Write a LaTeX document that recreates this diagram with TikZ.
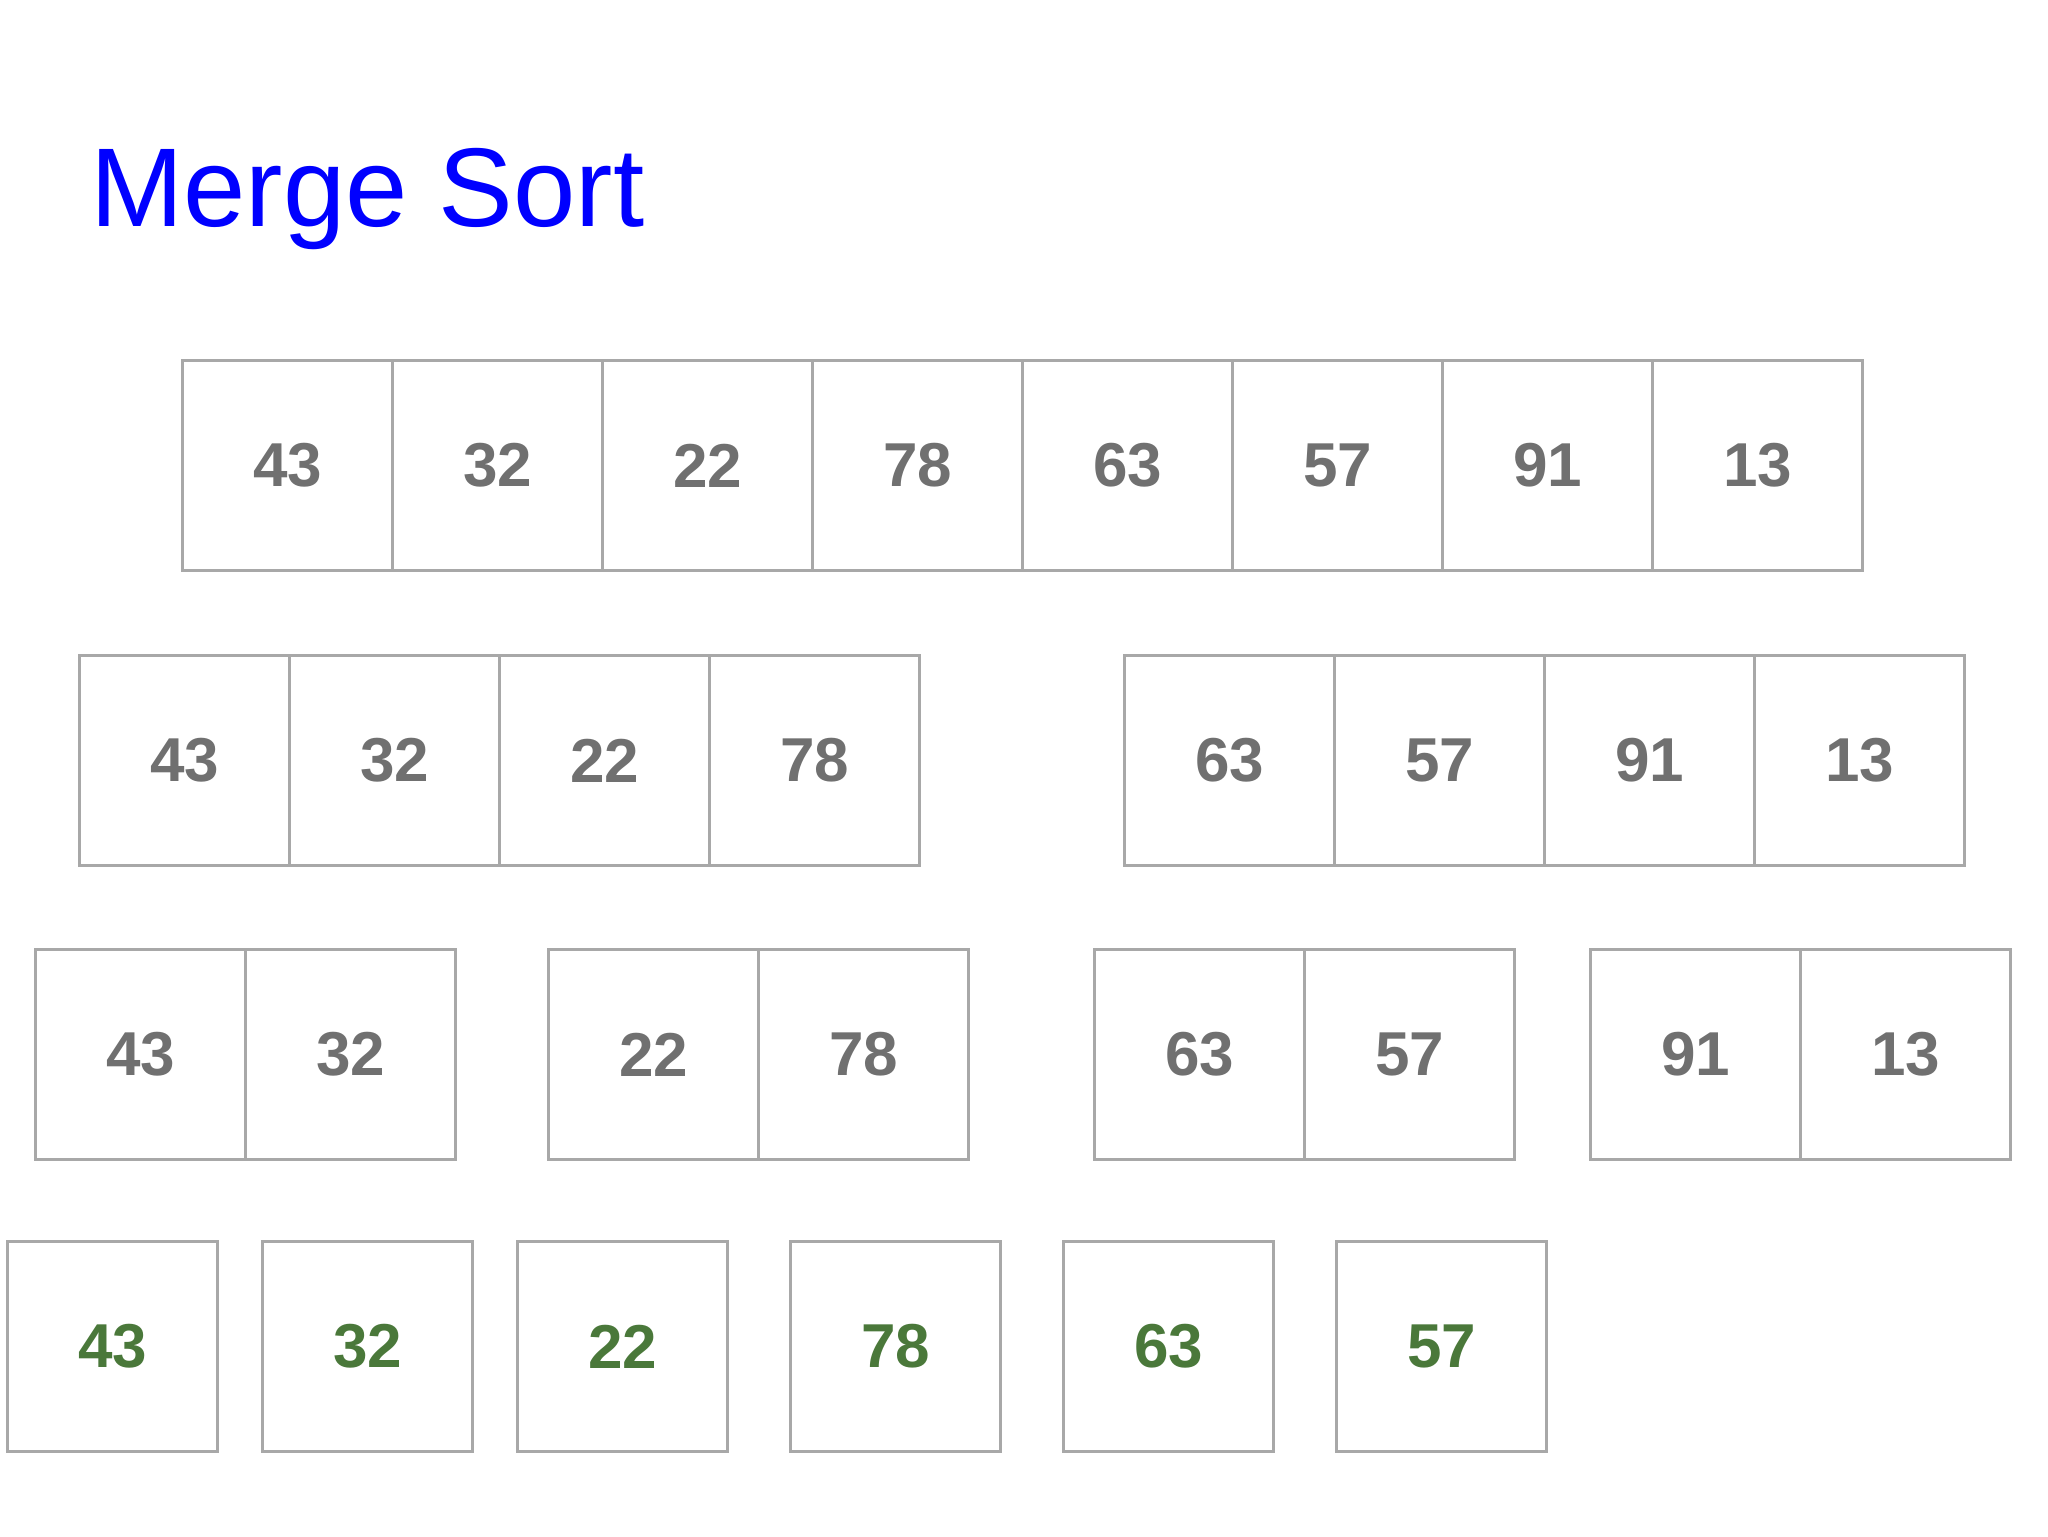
\documentclass[tikz,border=0pt]{standalone}
\usepackage{fontspec}
\setmainfont{Liberation Sans}
\definecolor{boxline}{RGB}{168,168,168}
\definecolor{numgray}{RGB}{112,112,112}
\definecolor{numgreen}{RGB}{74,120,58}
\definecolor{titleblue}{RGB}{0,0,255}
\begin{document}
\begin{tikzpicture}[x=0.5pt,y=-0.5pt,
  cell/.style={draw=boxline, line width=1.5pt, fill=white, minimum width=105pt, minimum height=105pt,
    inner sep=0pt, anchor=north west, text=numgray, font=\fontsize{31}{31}\selectfont\bfseries},
  leaf/.style={cell, text=numgreen},
  titletext/.style={anchor=base west, inner sep=0pt, text=titleblue, font=\fontsize{56}{56}\selectfont}]
\useasboundingbox (0,0) rectangle (2048,1536);
\fill[white] (0,0) rectangle (2048,1536);
\node[titletext] (title) at (90,226) {Merge Sort};
% row 1
\foreach \v [count=\i] in {43,32,22,78,63,57,91,13}
  \node[cell] (ra\i) at ({181+210*(\i-1)},359) {\v};
% row 2
\foreach \v [count=\i] in {43,32,22,78}
  \node[cell] (rbl\i) at ({78+210*(\i-1)},654) {\v};
\foreach \v [count=\i] in {63,57,91,13}
  \node[cell] (rbr\i) at ({1123+210*(\i-1)},654) {\v};
% row 3
\foreach \x/\v/\n in {34/43/a1,244/32/a2,547/22/b1,757/78/b2,1093/63/c1,1303/57/c2,1589/91/d1,1799/13/d2}
  \node[cell] (rc\n) at (\x,948) {\v};
% row 4
\foreach \x/\v [count=\i] in {6/43,261/32,516/22,789/78,1062/63,1335/57}
  \node[leaf] (rd\i) at (\x,1240) {\v};
\end{tikzpicture}
\end{document}
